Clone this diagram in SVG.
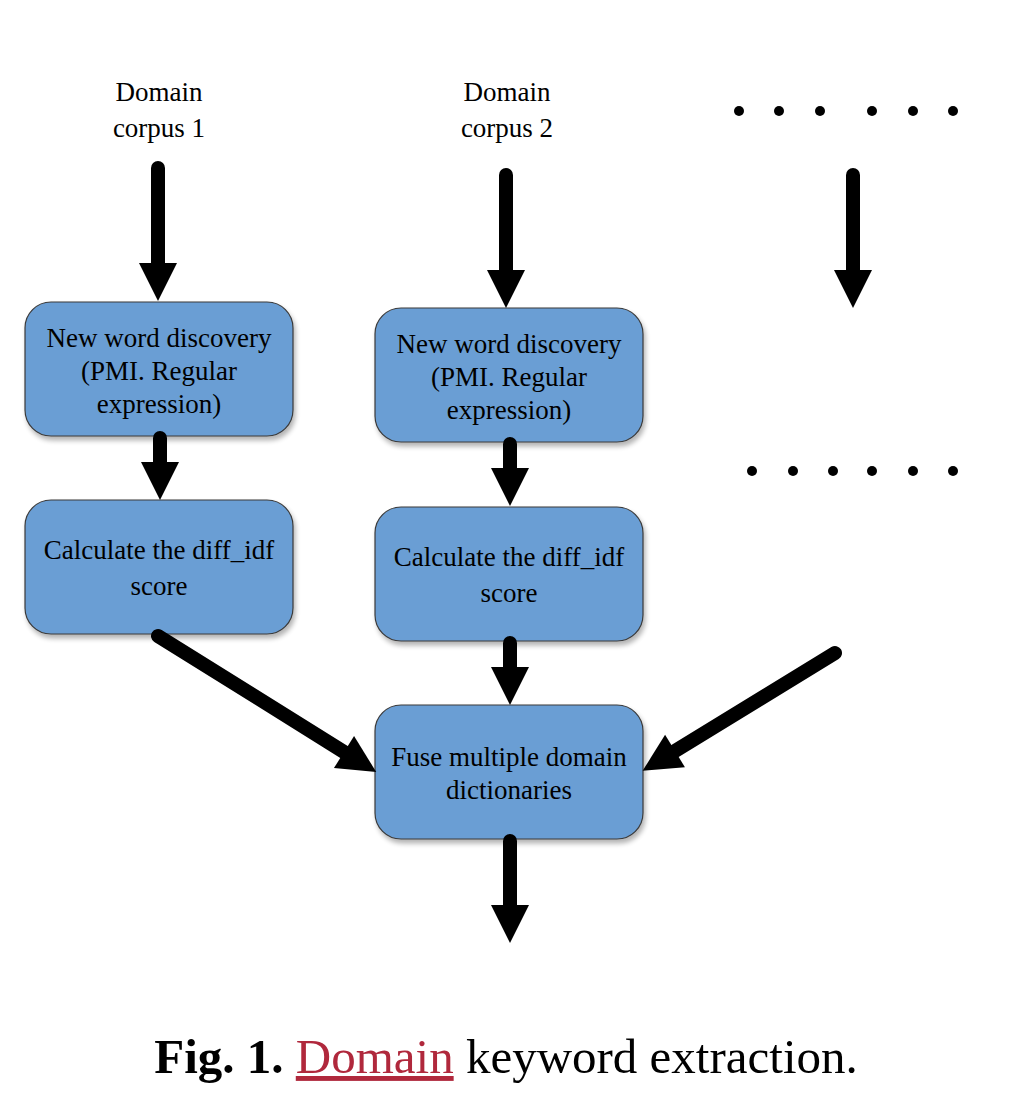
<svg xmlns="http://www.w3.org/2000/svg" width="1012" height="1115" viewBox="0 0 1012 1115">
<defs>
<style>
.box{fill:#6b9ed4;stroke:#3a3a3a;stroke-width:1.2;filter:url(#sh)}
.t{font-family:"Liberation Serif","Times New Roman",serif;font-size:27px;fill:#000;text-anchor:middle}
.a{stroke:#000;stroke-width:14;stroke-linecap:round;fill:none;marker-end:url(#ah)}
.dot{fill:#000}
</style>
<marker id="ah" markerUnits="userSpaceOnUse" markerWidth="40" markerHeight="40" refX="0" refY="19" orient="auto" viewBox="0 0 40 40" overflow="visible">
<path d="M0,0 L38,19 L0,38 z" fill="#000"/>
</marker>
<filter id="sh" x="-10%" y="-10%" width="125%" height="130%">
<feGaussianBlur in="SourceAlpha" stdDeviation="2.5"/>
<feOffset dx="2" dy="4" result="b"/>
<feComponentTransfer><feFuncA type="linear" slope="0.3"/></feComponentTransfer>
<feMerge><feMergeNode/><feMergeNode in="SourceGraphic"/></feMerge>
</filter>
</defs>
<rect width="1012" height="1115" fill="#fff"/>

<g id="label1">
<text class="t" x="159" y="101">Domain</text>
<text class="t" x="159" y="137">corpus 1</text>
</g>
<g id="label2">
<text class="t" x="507" y="101">Domain</text>
<text class="t" x="507" y="137">corpus 2</text>
</g>
<g id="dots-top">
<circle class="dot" cx="739" cy="111" r="5"/><circle class="dot" cx="779" cy="111" r="5"/><circle class="dot" cx="820" cy="111" r="5"/>
<circle class="dot" cx="872" cy="111" r="5"/><circle class="dot" cx="913" cy="111" r="5"/><circle class="dot" cx="953" cy="111" r="5"/>
</g>
<g id="dots-mid">
<circle class="dot" cx="752" cy="471" r="5"/><circle class="dot" cx="793" cy="471" r="5"/><circle class="dot" cx="833" cy="471" r="5"/>
<circle class="dot" cx="872" cy="471" r="5"/><circle class="dot" cx="913" cy="471" r="5"/><circle class="dot" cx="953" cy="471" r="5"/>
</g>

<g id="n1">
<rect class="box" x="25" y="302" width="268" height="134" rx="26"/>
<text class="t" x="159" y="347">New word discovery</text>
<text class="t" x="159" y="380">(PMI. Regular</text>
<text class="t" x="159" y="413">expression)</text>
</g>
<g id="n2">
<rect class="box" x="25" y="500" width="268" height="134" rx="26"/>
<text class="t" x="159" y="559">Calculate the diff_idf</text>
<text class="t" x="159" y="595">score</text>
</g>
<g id="n3">
<rect class="box" x="375" y="308" width="268" height="134" rx="26"/>
<text class="t" x="509" y="353">New word discovery</text>
<text class="t" x="509" y="386">(PMI. Regular</text>
<text class="t" x="509" y="419">expression)</text>
</g>
<g id="n4">
<rect class="box" x="375" y="507" width="268" height="134" rx="26"/>
<text class="t" x="509" y="566">Calculate the diff_idf</text>
<text class="t" x="509" y="602">score</text>
</g>
<g id="n5">
<rect class="box" x="375" y="705" width="268" height="134" rx="26"/>
<text class="t" x="509" y="766">Fuse multiple domain</text>
<text class="t" x="509" y="799">dictionaries</text>
</g>

<g id="connectors">
<line class="a" x1="158" y1="168" x2="158" y2="263"/>
<line class="a" x1="506" y1="175" x2="506" y2="270"/>
<line class="a" x1="853" y1="175" x2="853" y2="270"/>
<line class="a" x1="160" y1="438" x2="160" y2="462"/>
<line class="a" x1="510" y1="444" x2="510" y2="468"/>
<line class="a" x1="510" y1="643" x2="510" y2="667"/>
<line class="a" x1="510" y1="841" x2="510" y2="905"/>
<line class="a" x1="158" y1="636" x2="344" y2="752"/>
<line class="a" x1="835" y1="653" x2="675" y2="751"/>
</g>

<g id="caption">
<text x="506" y="1073" text-anchor="middle" font-family="Liberation Serif,'Times New Roman',serif" font-size="49" fill="#000"><tspan font-weight="bold">Fig. 1.</tspan> <tspan fill="#b0283c" text-decoration="underline">Domain</tspan> keyword extraction.</text>
</g>
</svg>
